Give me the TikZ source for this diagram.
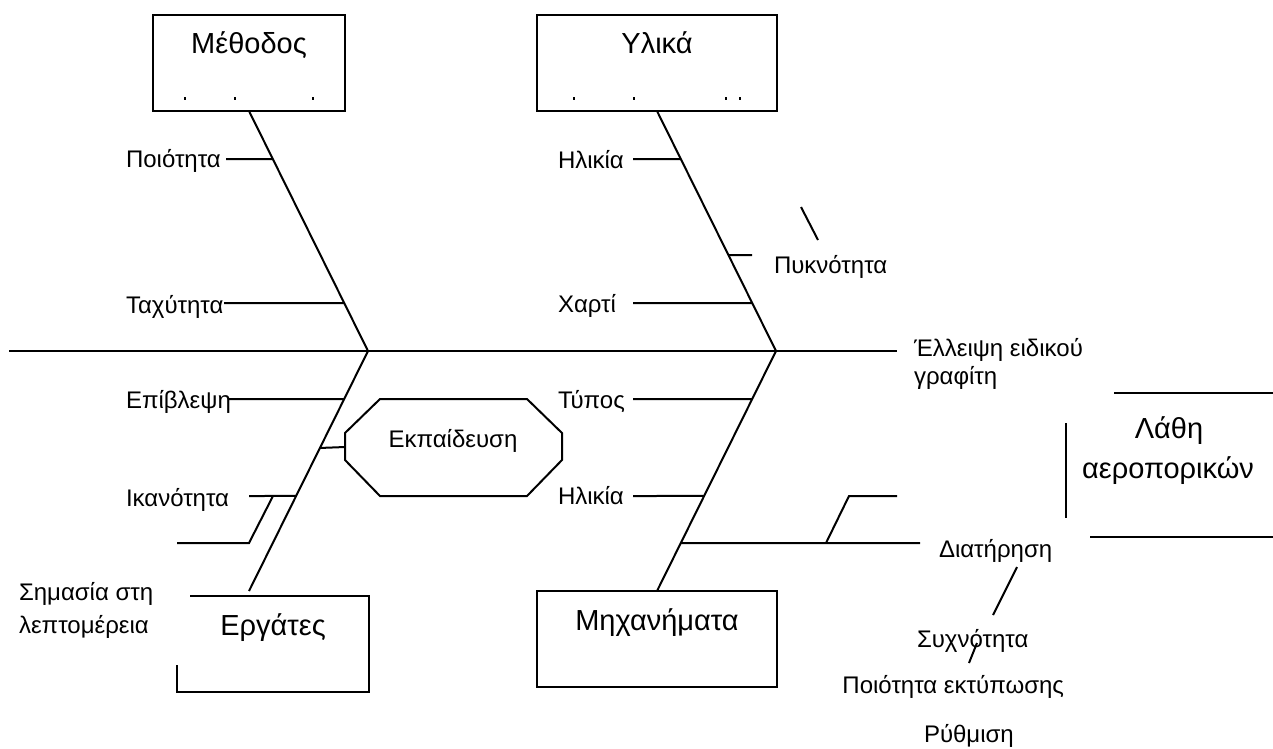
\documentclass[tikz,border=0pt]{standalone}
\usepackage{fontspec}
\setmainfont{Liberation Sans}
\usetikzlibrary{calc}
\begin{document}
\begin{tikzpicture}[x=1pt,y=-1pt,
  line width=2pt, line cap=butt,
  bone/.style={line width=2pt},
  spine/.style={line width=2.4pt},
  small/.style={font=\fontsize{24}{28}\selectfont, inner sep=0pt},
  big/.style={font=\fontsize{29}{40}\selectfont, inner sep=0pt},
  catbox/.style={draw, line width=2pt, inner sep=0pt, outer sep=0pt, anchor=north west},
  tick/.style={line width=1.2pt}]
\fill[white] (0,0) rectangle (1273,748);
\useasboundingbox (0,0) rectangle (1273,748);

% ---------- main spine ----------
\coordinate (tail) at (9,351);
\coordinate (headL) at (368,351);
\coordinate (headR) at (776,351);
\coordinate (spineEnd) at (897,351);
\draw[spine] (tail) -- (spineEnd);

% ---------- category boxes ----------
\node[catbox, minimum width=192, minimum height=96] (methodBox) at (153,15) {};
\node[big, anchor=base] (methodTxt) at (249,53) {Μέθοδος};
\foreach \xx in {185,235,313} \draw[tick] (\xx,97) -- (\xx,100);

\node[catbox, minimum width=240, minimum height=96] (matBox) at (537,15) {};
\node[big, anchor=base] (matTxt) at (657,53) {Υλικά};
\foreach \xx in {574,634,726,740} \draw[tick] (\xx,97) -- (\xx,100);

\node[catbox, minimum width=240, minimum height=96] (machBox) at (537,591) {};
\node[big, anchor=base] (machTxt) at (657,630) {Μηχανήματα};

% open box for the workers
\coordinate (workTop) at (249,591);
\draw (190,596) -- (369,596) -- (369,692) -- (177,692) -- (177,665);
\node[big, anchor=base] (workTxt) at (273,635) {Εργάτες};

% ---------- bones ----------
\draw[bone] (methodBox.south) -- (headL);
\draw[bone] (matBox.south) -- (headR);
\draw[bone] (headL) -- (workTop);
\draw[bone] (headR) -- (machBox.north);

% joints on the bones
\coordinate (m1) at ($(methodBox.south)!0.2!(headL)$);
\coordinate (m2) at ($(methodBox.south)!0.8!(headL)$);
\coordinate (u1) at ($(matBox.south)!0.2!(headR)$);
\coordinate (u2) at ($(matBox.south)!0.6!(headR)$);
\coordinate (u3) at ($(matBox.south)!0.8!(headR)$);
\coordinate (w1) at ($(headL)!0.2!(workTop)$);
\coordinate (w2) at ($(headL)!0.404!(workTop)$);
\coordinate (w3) at ($(headL)!0.604!(workTop)$);
\coordinate (k1) at ($(headR)!0.2!(machBox.north)$);
\coordinate (k2) at ($(headR)!0.604!(machBox.north)$);
\coordinate (k3) at ($(headR)!0.8!(machBox.north)$);

% ---------- method branches ----------
\node[small, anchor=base west] (quality) at (125,167) {Ποιότητα};
\coordinate (m1e) at (226,159);
\draw (m1e) -- (m1);
\node[small, anchor=base west] (speed) at (125,313) {Ταχύτητα};
\coordinate (m2e) at (224,303);
\draw (m2e) -- (m2);

% ---------- material branches ----------
\node[small, anchor=base west] (age1) at (557,168) {Ηλικία};
\coordinate (u1e) at (633,159);
\draw (u1e) -- (u1);
\node[small, anchor=base west] (density) at (773,273) {Πυκνότητα};
\coordinate (u2e) at (752,255);
\draw (u2) -- (u2e);
\coordinate (dA) at (801,207);
\coordinate (dB) at (818,240);
\draw (dA) -- (dB);
\node[small, anchor=base west] (paper) at (557,312) {Χαρτί};
\coordinate (u3e) at (633,303);
\draw (u3e) -- (u3);

% ---------- effect ----------
\node[small, font=\fontsize{24}{28}\selectfont, anchor=base west, align=left] (lack) at (913,384) {Έλλειψη ειδικού\\γραφίτη};
\draw (1114,393) -- (1273,393);
\draw (1066,423) -- (1066,518);
\draw (1090,537) -- (1273,537);
\node[big, anchor=base] (errA) at (1169,438) {Λάθη};
\node[big, anchor=base] (errB) at (1168,478) {αεροπορικών};

% ---------- worker branches ----------
\node[small, anchor=base west] (superv) at (125,408) {Επίβλεψη};
\coordinate (w1e) at (228,399);
\draw (w1e) -- (w1);

\node[small, anchor=base] (train) at (453,447) {Εκπαίδευση};
\draw (380,399) -- (527,399) -- (562,433) -- (562,460) -- (527,496)
      -- (380,496) -- (345,460) -- (345,433) -- cycle;
\coordinate (trainW) at (345,447);
\draw (w2) -- (trainW);

\node[small, anchor=base west] (skill) at (125,506) {Ικανότητα};
\coordinate (w3e) at (249,496);
\draw (w3e) -- (w3);
\coordinate (w3s) at (273,496);
\coordinate (w3k) at (249,543);
\coordinate (w3f) at (177,543);
\draw (w3s) -- (w3k) -- (w3f);

\node[small, font=\fontsize{24}{33}\selectfont, anchor=base west, align=left] (detail) at (18,633) {Σημασία στη\\λεπτομέρεια};

% ---------- machine branches ----------
\node[small, anchor=base west] (type) at (557,408) {Τύπος};
\coordinate (k1e) at (633,399);
\draw (k1e) -- (k1);
\node[small, anchor=base west] (age2) at (557,504) {Ηλικία};
\coordinate (k2e) at (633,496);
\draw (k2e) -- (k2);
\coordinate (k3e) at (920,543);
\draw (k3) -- (k3e);
\coordinate (k3s) at (826,543);
\coordinate (k3k) at (849,496);
\coordinate (k3f) at (897,496);
\draw (k3s) -- (k3k) -- (k3f);
\node[small, anchor=base west] (maint) at (938,557) {Διατήρηση};

\coordinate (eA) at (1017,567);
\coordinate (eB) at (993,615);
\draw (eA) -- (eB);
\node[small, anchor=base west] (freq) at (916,647) {Συχνότητα};
\coordinate (fA) at (977,643);
\coordinate (fB) at (969,663);
\draw (fA) -- (fB);
\node[small, anchor=base east] (printq) at (1065,693) {Ποιότητα εκτύπωσης};
\node[small, anchor=base west] (adjust) at (923,742) {Ρύθμιση};
\end{tikzpicture}
\end{document}
